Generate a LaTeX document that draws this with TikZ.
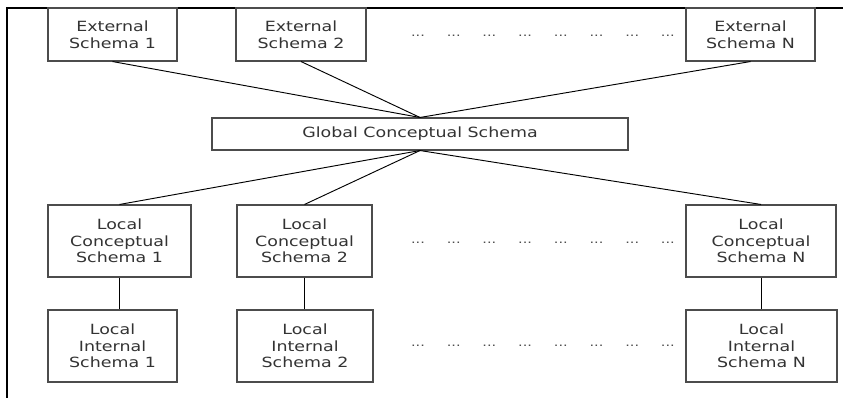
\documentclass[tikz,border=0pt]{standalone}
\usepackage{fontspec}
\setmainfont{DejaVu Sans}[FakeStretch=1.24]
\tikzset{schema/.style = {draw=black!70, line width=0.9pt, align=center,
                          text=black!80, inner sep=0pt,
                          font=\fontsize{12}{14.2}\selectfont},
         link/.style = {line width=0.8pt},
         gap/.style = {text=black!70, inner sep=0pt,
                       font=\fontsize{10}{12}\selectfont}}

\begin{document}
\begin{tikzpicture}[x=0.03cm, y=-0.03cm]
      \useasboundingbox (0, 0) rectangle (843, 398);
      \draw [line width=1.1pt] (7, 398) -- (7, 8) -- (843, 8);
      % external level
      \node (es1) [schema, minimum width=3.87cm, minimum height=1.59cm] at (112.5, 34.5) {External\\Schema 1};
      \node (es2) [schema, minimum width=3.9cm, minimum height=1.59cm] at (301, 34.5) {External\\Schema 2};
      \node (esn) [schema, minimum width=3.87cm, minimum height=1.59cm] at (750.5, 34.5) {External\\Schema N};
      % conceptual level
      \node (gcs) [schema, minimum width=12.48cm, minimum height=0.96cm] at (420, 134) {Global Conceptual Schema};
      \node (lc1) [schema, minimum width=4.29cm, minimum height=2.16cm] at (119.5, 241) {Local\\Conceptual\\Schema 1};
      \node (lc2) [schema, minimum width=4.05cm, minimum height=2.16cm] at (304.5, 241) {Local\\Conceptual\\Schema 2};
      \node (lcn) [schema, minimum width=4.5cm, minimum height=2.16cm] at (761, 241) {Local\\Conceptual\\Schema N};
      % internal level
      \node (li1) [schema, minimum width=3.87cm, minimum height=2.16cm] at (112.5, 346) {Local\\Internal\\Schema 1};
      \node (li2) [schema, minimum width=4.08cm, minimum height=2.16cm] at (305, 346) {Local\\Internal\\Schema 2};
      \node (lin) [schema, minimum width=4.53cm, minimum height=2.16cm] at (761.5, 346) {Local\\Internal\\Schema N};
      \foreach \k in {0,...,7} {
        \node (gx\k) [gap] at ({418+35.7*\k}, 36) {...};
        \node (gc\k) [gap] at ({418+35.7*\k}, 243) {...};
        \node (gi\k) [gap] at ({418+35.7*\k}, 346) {...};
      }
      \draw [link] (es1.south) -- (gcs.north);
      \draw [link] (es2.south) -- (gcs.north);
      \draw [link] (esn.south) -- (gcs.north);
      \draw [link] (gcs.south) -- (lc1.north);
      \draw [link] (gcs.south) -- (lc2.north);
      \draw [link] (gcs.south) -- (lcn.north);
      \draw [link] (lc1.south) -- (lc1.south |- li1.north);
      \draw [link] (lc2.south) -- (lc2.south |- li2.north);
      \draw [link] (lcn.south) -- (lcn.south |- lin.north);
    \end{tikzpicture}
\end{document}
